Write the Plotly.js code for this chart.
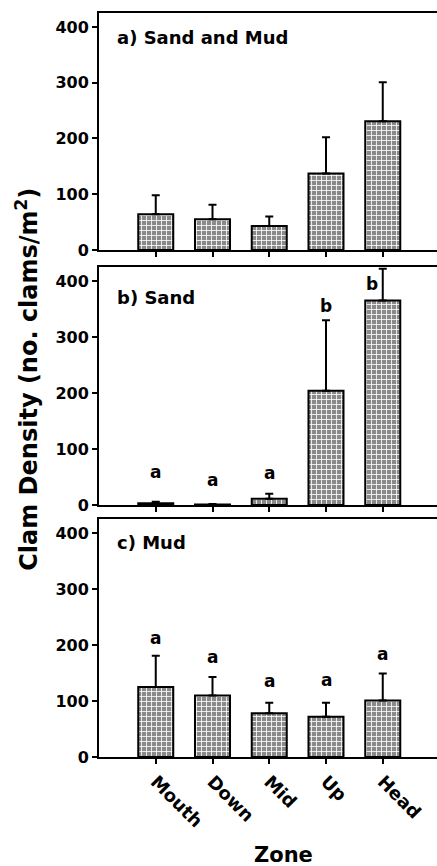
<!DOCTYPE html>
<html>
<head>
<meta charset="utf-8">
<script src="https://cdn.plot.ly/plotly-3.0.1.min.js"></script>
<style>html,body{margin:0;padding:0;background:#fff;overflow:hidden;}#wrap{width:437px;height:866px;overflow:hidden;}#chart{width:447px;height:866px;}</style>
</head>
<body>
<div id="wrap"><div id="chart"></div></div>
<script>
// ---- data ----
const zones = ['Mouth', 'Down', 'Mid', 'Up', 'Head'];
const meanSandMud = [64, 55, 43, 137, 231];
const seSandMud   = [34, 26, 17, 65, 70];
const meanSand    = [3, 1, 11, 204, 365];
const seSand      = [3, 1, 9, 126, 57];
const meanMud     = [125, 110, 78, 72, 101];
const seMud       = [56, 33, 19, 25, 48];
const lettersSand = ['a', 'a', 'a', 'b', 'b'];
const labelYSand  = [59, 45, 57, 355, 395];
const lettersMud  = ['a', 'a', 'a', 'a', 'a'];
const labelYMud   = [213, 178, 135, 138, 184];
const panelTitles = ['a) Sand and Mud', 'b) Sand', 'c) Mud'];
const yTicks = [0, 100, 200, 300, 400];

// ---- styling ----
const FONT = 'DejaVu Sans, Arial, sans-serif';
const zeros = zones.map(() => 0);
const plotW = 348; // 447 - 99 left margin

function barTrace(means, se, xa, ya) {
  return {
    type: 'bar', x: zones, y: means, xaxis: xa, yaxis: ya,
    marker: {
      color: '#949494',
      line: {color: '#000', width: 2},
      pattern: {shape: '+', fgcolor: '#ffffff', bgcolor: '#8a8a8a', size: 5, solidity: 0.3, fillmode: 'replace'}
    },
    error_y: {type: 'data', array: se, arrayminus: zeros, symmetric: false,
              color: '#000', thickness: 2, width: 4},
    hoverinfo: 'skip', showlegend: false
  };
}

const data = [
  barTrace(meanSandMud, seSandMud, 'x', 'y'),
  barTrace(meanSand, seSand, 'x2', 'y2'),
  barTrace(meanMud, seMud, 'x3', 'y3')
];

const xRange = [-1, -1 + plotW / 56.75];
function xAxis(anchor, showLabels) {
  return {
    anchor: anchor, type: 'category', categoryarray: zones, range: xRange,
    showline: true, linecolor: '#000', linewidth: 2, mirror: true,
    ticks: 'outside', ticklen: 5, tickwidth: 2, tickcolor: '#000',
    showticklabels: showLabels, tickangle: 45,
    tickfont: {family: FONT, size: 18, color: '#000', weight: 'bold'},
    showgrid: false, zeroline: false, fixedrange: true
  };
}
function yAxis(domain, anchor) {
  return {
    domain: domain, anchor: anchor, range: [0, 425],
    tickvals: yTicks, ticktext: yTicks.map(String),
    showline: true, linecolor: '#000', linewidth: 2, mirror: false,
    ticks: 'outside', ticklen: 5, tickwidth: 2, tickcolor: '#000',
    tickfont: {family: FONT, size: 16, color: '#000', weight: 'bold'},
    showgrid: false, zeroline: false, fixedrange: true
  };
}

const px = v => (v - 99) / plotW; // paper x from pixel
const annotations = [];
const panelY = [0.9665, 0.6171, 0.2877];
panelTitles.forEach((t, i) => annotations.push({
  xref: 'paper', yref: 'paper', x: px(115), y: panelY[i], xanchor: 'left', yanchor: 'middle',
  text: t, showarrow: false, font: {family: FONT, size: 18, color: '#000', weight: 'bold'}
}));
zones.forEach((z, i) => {
  annotations.push({
    xref: 'x2', yref: 'y2', x: z, y: labelYSand[i], text: lettersSand[i], showarrow: false,
    xshift: i === 4 ? -11 : 0,
    font: {family: FONT, size: 17, color: '#000', weight: 'bold'}
  });
  annotations.push({
    xref: 'x3', yref: 'y3', x: z, y: labelYMud[i], text: lettersMud[i], showarrow: false,
    font: {family: FONT, size: 17, color: '#000', weight: 'bold'}
  });
});
annotations.push({
  xref: 'paper', yref: 'paper', x: px(27), y: 0.507, xanchor: 'center', yanchor: 'middle',
  textangle: -90, showarrow: false,
  text: 'Clam Density (no. clams/m<sup>2</sup>)',
  font: {family: FONT, size: 24, color: '#000', weight: 'bold'}
});
annotations.push({
  xref: 'paper', yref: 'paper', x: px(283), y: -0.1317, xanchor: 'center', yanchor: 'middle',
  showarrow: false, text: 'Zone',
  font: {family: FONT, size: 21, color: '#000', weight: 'bold'}
});

const layout = {
  width: 447, height: 866,
  margin: {l: 99, r: 0, t: 13, b: 109, pad: 0},
  paper_bgcolor: '#fff', plot_bgcolor: '#fff',
  bargap: 0.383,
  showlegend: false,
  xaxis: xAxis('y', false),
  xaxis2: xAxis('y2', false),
  xaxis3: xAxis('y3', true),
  yaxis: yAxis([0.6815, 1], 'x'),
  yaxis2: yAxis([0.3387, 0.6586], 'x2'),
  yaxis3: yAxis([0, 0.3199], 'x3'),
  annotations: annotations
};

Plotly.newPlot('chart', data, layout, {staticPlot: true, displayModeBar: false});
</script>
</body>
</html>
